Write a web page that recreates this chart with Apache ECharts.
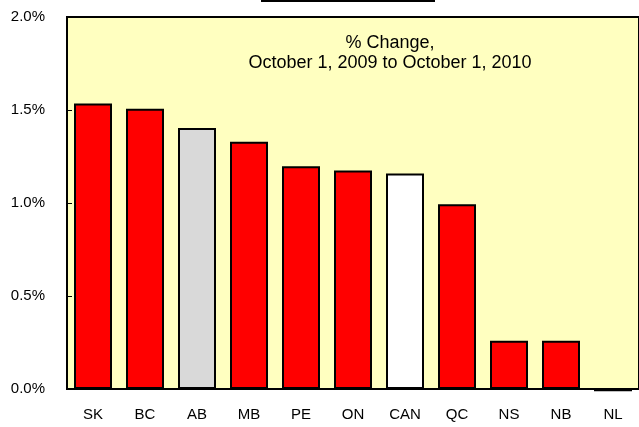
<!DOCTYPE html>
<html>
<head>
<meta charset="utf-8">
<script src="https://cdn.jsdelivr.net/npm/echarts@6/dist/echarts.min.js"></script>
<style>
  html, body { margin: 0; padding: 0; background: #ffffff; }
  #chart { width: 639px; height: 427px; }
</style>
</head>
<body>
<div id="chart"></div>
<script>
// provinces, sorted by change
const categories = ['SK', 'BC', 'AB', 'MB', 'PE', 'ON', 'CAN', 'QC', 'NS', 'NB', 'NL'];
// % change, Oct 1 2009 -> Oct 1 2010
const changes = [1.535, 1.507, 1.403, 1.329, 1.198, 1.175, 1.159, 0.993, 0.26, 0.26, -0.012];
const barColors = ['#ff0000', '#ff0000', '#d9d9d9', '#ff0000', '#ff0000', '#ff0000', '#ffffff', '#ff0000', '#ff0000', '#ff0000', '#ff0000'];
const yTicks = [0, 0.5, 1.0, 1.5, 2.0];

const chart = echarts.init(document.getElementById('chart'));

const option = {
  backgroundColor: '#ffffff',
  animation: false,
  textStyle: { fontFamily: 'Liberation Sans, Arial, sans-serif' },
  grid: {
    left: 67,
    top: 17,
    right: -5,
    bottom: 38,
    show: true,
    backgroundColor: '#ffffc0',
    borderColor: '#000000',
    borderWidth: 2
  },
  graphic: [
    // stray title underline at the very top
    { type: 'rect', shape: { x: 261, y: 0, width: 174, height: 2 }, style: { fill: '#000000' } },
    {
      type: 'text',
      x: 390,
      y: 33,
      style: {
        text: '% Change,\nOctober 1, 2009 to October 1, 2010',
        fill: '#000000',
        font: '18px "Liberation Sans", Arial, sans-serif',
        align: 'center',
        lineHeight: 20
      }
    }
  ],
  xAxis: {
    type: 'category',
    data: categories,
    axisLine: { show: true, lineStyle: { color: '#000000', width: 2 } },
    axisTick: { show: false },
    axisLabel: { color: '#000000', fontSize: 15, margin: 18 }
  },
  yAxis: {
    type: 'value',
    min: 0,
    max: 2,
    interval: 0.5,
    axisLine: { show: true, lineStyle: { color: '#000000', width: 2 } },
    axisTick: { show: true, inside: true, length: 5, lineStyle: { color: '#000000' } },
    splitLine: { show: false },
    axisLabel: {
      color: '#000000',
      fontSize: 15,
      margin: 22,
      formatter: v => yTicks.includes(v) ? v.toFixed(1) + '%' : ''
    }
  },
  series: [
    {
      type: 'bar',
      clip: false,
      barWidth: 38,
      data: changes.map((v, i) => ({
        value: v,
        itemStyle: { color: barColors[i] }
      })),
      itemStyle: { borderColor: '#000000', borderWidth: 2 }
    }
  ]
};

chart.setOption(option);
</script>
</body>
</html>
